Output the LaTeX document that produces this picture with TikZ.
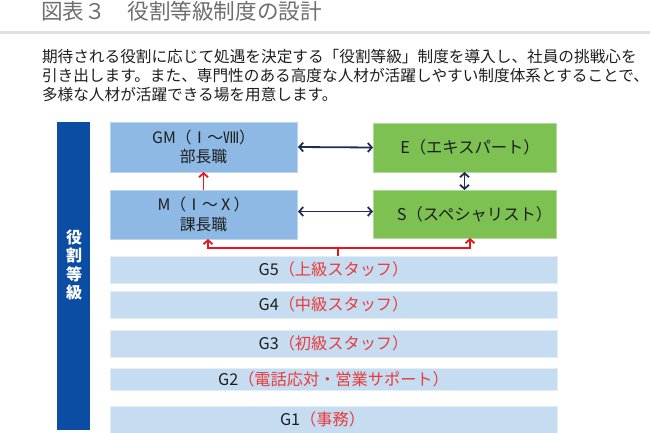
\documentclass[tikz,border=0pt]{standalone}
\usepackage{fontspec}
\setmainfont{Noto Sans CJK JP}
\usetikzlibrary{arrows.meta,calc}
\definecolor{titlegray}{HTML}{6E6E6E}
\definecolor{rulegray}{HTML}{E1E1E1}
\definecolor{sidebar}{HTML}{0B4DA2}
\definecolor{mgrblue}{HTML}{8EB9E4}
\definecolor{spgreen}{HTML}{7CC152}
\definecolor{gradeblue}{HTML}{C6DCF1}
\definecolor{navy}{HTML}{1F2C56}
\definecolor{linkred}{HTML}{E5161D}
\definecolor{labelred}{HTML}{E83B3B}
\definecolor{bodytext}{HTML}{1E1E1E}
\begin{document}
\begin{tikzpicture}[x=1pt,y=-1pt,
  every node/.style={inner sep=0pt, outer sep=0pt, text=bodytext},
  mgrbox/.style={fill=mgrblue, draw=mgrblue!60!white, line width=0.6pt, minimum width=187pt, anchor=north west, font=\fontsize{15.8}{19.5}\selectfont, align=center},
  spbox/.style={fill=spgreen, draw=spgreen!60!white, line width=0.6pt, minimum width=183pt, anchor=north west, font=\fontsize{16.3}{19}\selectfont},
  gradebar/.style={fill=gradeblue, draw=gradeblue!50!white, line width=0.6pt, minimum width=447pt, anchor=north west, font=\fontsize{16.2}{18}\selectfont},
  navyarrow/.style={draw=navy, line width=1.8pt, {Straight Barb[length=4pt,width=9pt]}-{Straight Barb[length=4pt,width=9pt]}},
  redarrow/.style={draw=linkred, line width=1.8pt, -{Straight Barb[length=4pt,width=9pt]}},
  redtwin/.style={draw=linkred, line width=1.8pt, {Straight Barb[length=4pt,width=9pt]}-{Straight Barb[length=4pt,width=9pt]}},
  redline/.style={draw=linkred, line width=1.8pt},
  bodyline/.style={anchor=west, font=\fontsize{15.65}{19}\selectfont},
]
\useasboundingbox (0,0) rectangle (650,433);
% title and rule
\node[anchor=west, text=titlegray, font=\fontsize{21.6}{24}\selectfont] (title) at (41,11) {図表３　役割等級制度の設計};
\draw[rulegray, line width=3pt] (0,32.5) -- (650,32.5);
% body text
\node[bodyline] (b1) at (42,56.5) {期待される役割に応じて処遇を決定する「役割等級」制度を導入し、社員の挑戦心を};
\node[bodyline] (b2) at (42,76) {引き出します。また、専門性のある高度な人材が活躍しやすい制度体系とすることで、};
\node[bodyline] (b3) at (42,95) {多様な人材が活躍できる場を用意します。};
% side bar
\node[fill=sidebar, minimum width=33pt, minimum height=308pt, anchor=north west] (side) at (57,122) {};
\node[text=white, font=\bfseries\fontsize{16}{18.3}\selectfont, align=center] (sidelabel) at (74,265) {役\\割\\等\\級};
% management boxes
\node[mgrbox, minimum height=50pt] (gm) at (110,122) {GM（Ⅰ～Ⅷ）\\部長職};
\node[mgrbox, minimum height=49pt] (m) at (110,190) {M（Ⅰ～Ⅹ）\\課長職};
% specialist boxes
\node[spbox, minimum height=49pt] (e) at (373,123) {\hspace*{11pt}E（エキスパート）};
\node[spbox, minimum height=48pt] (s) at (373,190) {\hspace*{20pt}S（スペシャリスト）};
% grade bars
\node[gradebar, minimum height=27pt] (g5) at (110,256) {G5\textcolor{labelred}{（上級スタッフ）}};
\node[gradebar, minimum height=27pt] (g4) at (110,291) {G4\textcolor{labelred}{（中級スタッフ）}};
\node[gradebar, minimum height=27pt] (g3) at (110,330) {G3\textcolor{labelred}{（初級スタッフ）}};
\node[gradebar, minimum height=22pt] (g2) at (110,368) {\raisebox{-4pt}{G2\textcolor{labelred}{（電話応対・営業サポート）}}};
\node[gradebar, minimum height=27pt] (g1) at (110,406) {G1\textcolor{labelred}{（事務）}\hspace*{22pt}};
% navy connectors
\draw[navyarrow, shorten <=1pt] (gm.east) -- (e.west);
\draw[navyarrow, shorten <=1pt] ([yshift=3pt]m.east) -- ([yshift=3pt]m.east -| s.west);
\draw[navyarrow] (e.south) -- (s.north);
% red connectors
\draw[redarrow] (m.north) -- (gm.south);
\coordinate (rj) at (338,248);
\coordinate (rl) at (208,248);
\coordinate (rr) at (470,248);
\draw[redline] (g5.north -| rj) -- (rj);
\draw[redtwin] (rl |- m.south) -- (rl) -- (rr) -- (rr |- s.south);
\end{tikzpicture}
\end{document}
